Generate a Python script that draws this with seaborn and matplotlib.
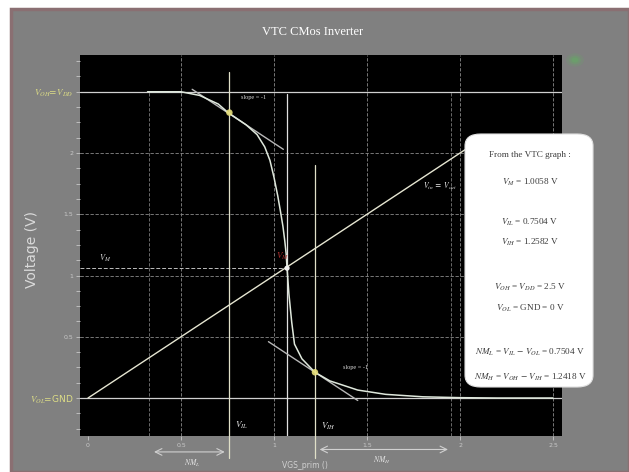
import matplotlib
matplotlib.use("Agg")
import matplotlib.pyplot as plt
from matplotlib.patches import Rectangle, FancyBboxPatch
import numpy as np
import pandas as pd
import seaborn as sns

# ---------------- data ----------------
vin = [0.32, 0.50, 0.60, 0.70, 0.753, 0.85, 0.909, 0.95, 0.978, 1.00, 1.02, 1.035,
       1.048, 1.058, 1.065, 1.07, 1.08, 1.095, 1.11, 1.15, 1.22, 1.30, 1.45, 1.60,
       1.80, 2.00, 2.20, 2.50]
vout = [2.50, 2.50, 2.47, 2.40, 2.33, 2.23, 2.15, 2.05, 1.94, 1.80, 1.65, 1.52,
        1.40, 1.28, 1.18, 1.06, 0.85, 0.62, 0.44, 0.32, 0.21, 0.14, 0.065, 0.03,
        0.01, 0.003, 0.0, 0.0]
diag_x = [0.0, 2.1]
tan1_x = [0.56, 1.05]
tan1_c = 3.08
tan2_x = [0.97, 1.45]
tan2_c = 1.43
v_il, v_ih, v_m = 0.76, 1.22, 1.07
v_il_out, v_ih_out, v_m_out = 2.33, 0.21, 1.06
voh, vol = 2.5, 0.0
nml_span = [0.34, 0.75]
nmh_span = [1.23, 1.95]
x_ticks = [0, 0.5, 1.0, 1.5, 2.0, 2.5]
x_tick_labels = ["0", "0.5", "1", "1.5", "2", "2.5"]
y_ticks = [0, 0.5, 1.0, 1.5, 2.0, 2.5]
y_tick_labels = [r"$V_{OL}$=GND", "0.5", "1", "1.5", "2", r"$V_{OH}$=$V_{DD}$"]
info_lines = [
    "From the VTC graph :",
    r"$V_M$ = 1.0058 V",
    "",
    r"$V_{IL}$ = 0.7504 V",
    r"$V_{IH}$ = 1.2582 V",
    "",
    r"$V_{OH}$ = $V_{DD}$ = 2.5 V",
    r"$V_{OL}$ = GND = 0 V",
    "",
    r"$NM_L$ = $V_{IL}$ $-$ $V_{OL}$ = 0.7504 V",
    r"$NM_H$ = $V_{OH}$ $-$ $V_{IH}$ = 1.2418 V",
]
info_y = [155, 182, None, 222, 242, None, 287, 308, None, 352, 377]

# ---------------- figure ----------------
sns.set_theme(style="dark")
plt.rcParams["font.family"] = ["DejaVu Sans"]
plt.rcParams["mathtext.fontset"] = "stix"

W, H = 629, 472
fig = plt.figure(figsize=(W / 100, H / 100), dpi=100)
fig.patch.set_facecolor("white")
fig.patches.append(Rectangle((11 / W, 0), 1 - 11 / W, 1 - 9 / H, transform=fig.transFigure,
                             facecolor="#808080", edgecolor="#8a6f72", linewidth=2.5, zorder=-10))

ax = fig.add_axes([80 / W, 1 - 436 / H, 482 / W, 381 / H])
ax.set_facecolor("black")
ax.set_xlim(-0.043, 2.548)
ax.set_ylim(-0.31, 2.80)

# grid
for yv in y_ticks[1:-1]:
    ax.axhline(yv, color="#8a8a8a", lw=0.6, ls=(0, (4, 2)), zorder=1)
for xv in x_ticks[1:]:
    ax.axvline(xv, color="#8a8a8a", lw=0.6, ls=(0, (4, 2)), zorder=1)
for xv in [0.33, 1.95]:
    ax.axvline(xv, ymax=(2.5 + 0.31) / 3.11, color="#7a7a7a", lw=0.6, ls=(0, (4, 2)), zorder=1)
ax.axhline(voh, color="#d0d0d0", lw=0.9, zorder=2)
ax.axhline(vol, color="#d0d0d0", lw=0.9, zorder=2)
ax.plot([-0.043, v_m], [v_m_out, v_m_out], color="#bdbdbd", lw=0.7, ls=(0, (4, 2)), zorder=2)

# vertical marker lines
ax.plot([v_il, v_il], [2.66, -0.49], color="#e0e0c8", lw=0.9, clip_on=False, zorder=3)
ax.plot([v_ih, v_ih], [1.90, -0.49], color="#e0e0c8", lw=0.9, clip_on=False, zorder=3)
ax.plot([v_m, v_m], [2.48, -0.31], color="#e0e0e0", lw=0.9, zorder=3)

# diagonal Vin = Vout
sns.lineplot(x=diag_x, y=diag_x, ax=ax, color="#e6e6d2", lw=1.0, zorder=4)
# tangents
t1 = np.array(tan1_x)
t2 = np.array(tan2_x)
sns.lineplot(x=t1, y=tan1_c - t1, ax=ax, color="#b8b8b8", lw=1.0, zorder=4)
sns.lineplot(x=t2, y=tan2_c - t2, ax=ax, color="#b8b8b8", lw=1.0, zorder=4)

# VTC curve
df = pd.DataFrame({"Vin": vin, "Vout": vout})
sns.lineplot(data=df, x="Vin", y="Vout", ax=ax, sort=False, color="#dfe8dc", lw=1.1, zorder=5)

# points
sns.scatterplot(x=[v_il, v_ih], y=[v_il_out, v_ih_out], ax=ax, color="#e8e07a",
                s=22, edgecolor="none", alpha=0.9, zorder=6)
sns.scatterplot(x=[v_m], y=[v_m_out], ax=ax, color="#f0f0f0", s=14, edgecolor="none", zorder=6)

# annotations in plot
ax.text(0.82, 2.44, "slope = -1", color="#d8d8d8", fontsize=4.5, family="Liberation Serif", zorder=7)
ax.text(1.37, 0.24, "slope = -1", color="#d8d8d8", fontsize=4.5, family="Liberation Serif", zorder=7)
ax.text(1.80, 1.71, r"$V_{in}$ = $V_{out}$", color="#eeeeee", fontsize=5.5, zorder=7)
ax.text(1.01, 1.14, r"$V_M$", color="#b03030", fontsize=6.5, zorder=7)
ax.text(0.06, 1.12, r"$V_M$", color="#d8d8d8", fontsize=6, zorder=7)
ax.text(v_il + 0.03, -0.24, r"$V_{IL}$", color="#e6e6e6", fontsize=6.5, zorder=7)
ax.text(v_ih + 0.03, -0.25, r"$V_{IH}$", color="#e6e6e6", fontsize=6.5, zorder=7)

# noise margin arrows below axes
ax.annotate("", xy=(nml_span[0], -0.44), xytext=(nml_span[1], -0.44),
            arrowprops=dict(arrowstyle="<->", color="#d0d0d0", lw=0.8), annotation_clip=False)
ax.annotate("", xy=(nmh_span[0], -0.42), xytext=(nmh_span[1], -0.42),
            arrowprops=dict(arrowstyle="<->", color="#d0d0d0", lw=0.8), annotation_clip=False)
ax.text(0.56, -0.53, r"$NM_L$", color="#e6e6e6", fontsize=5.5, ha="center", va="center", clip_on=False)
ax.text(1.58, -0.51, r"$NM_H$", color="#e6e6e6", fontsize=5.5, ha="center", va="center", clip_on=False)

# ticks
ax.set_xticks(x_ticks)
ax.set_xticklabels(x_tick_labels, fontsize=4.5, color="#c8c8c8")
ax.set_yticks(y_ticks)
ax.set_yticklabels(y_tick_labels, fontsize=4.5, color="#c8c8c8")
ax.set_yticks(np.arange(-0.25, 2.8, 0.125), minor=True)
ax.tick_params(axis="both", which="both", direction="out", colors="#c8c8c8", length=3,
               width=0.6, pad=2, left=True, bottom=True)
for i in (0, len(y_tick_labels) - 1):
    lab = ax.get_yticklabels()[i]
    lab.set_color("#dede86")
    lab.set_fontsize(6.5)
for s in ax.spines.values():
    s.set_visible(False)
ax.set_xlabel("")
ax.set_ylabel("")

# figure texts
fig.text(313 / W, 1 - 32 / H, "VTC CMos Inverter", color="white", fontsize=9,
         family="Liberation Serif", ha="center", va="center")
fig.text(32 / W, 1 - 250 / H, "Voltage (V)", color="#dadada", fontsize=10,
         rotation=90, ha="center", va="center")
fig.text(305 / W, 1 - 465 / H, "VGS_prim ()", color="#d0d0d0", fontsize=5.5,
         ha="center", va="center")

# green glow at top right
for r, a in [(9, 0.15), (6, 0.25), (3.5, 0.35)]:
    fig.patches.append(plt.Circle((575 / W, 1 - 60 / H), r / W, transform=fig.transFigure,
                                  facecolor="#5fb35f", edgecolor="none", alpha=a, zorder=5))

# info box
fig.patches.append(FancyBboxPatch((465 / W, 1 - 387 / H), 128 / W, 253 / H,
                                  boxstyle="round,pad=0,rounding_size=0.025",
                                  transform=fig.transFigure, facecolor="white",
                                  edgecolor="#e0e0e0", lw=0.8, zorder=6))
for line, yy in zip(info_lines, info_y):
    if yy is None or not line:
        continue
    fig.text(530 / W, 1 - yy / H, line, color="#3a3a3a", fontsize=6.6,
             family="Liberation Serif", ha="center", va="center", zorder=7)

fig.savefig("out.png", dpi=100, facecolor=fig.get_facecolor())
